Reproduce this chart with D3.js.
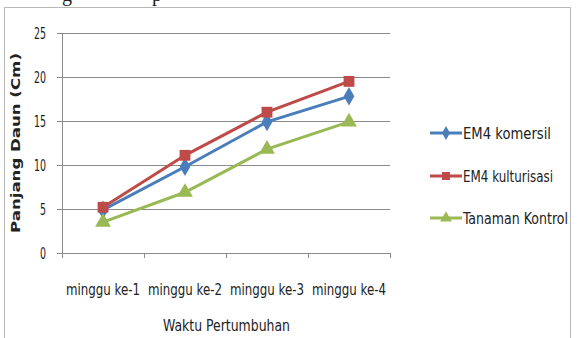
<!DOCTYPE html>
<html>
<head>
<meta charset="utf-8">
<script src="https://cdn.jsdelivr.net/npm/d3@7"></script>
<style>
	body { margin: 0; background: #fff; }
	text { font-family: "DejaVu Sans Condensed", "Liberation Sans Narrow", sans-serif; fill: #222; }
</style>
</head>
<body>
<div id="root"></div>
<script>
const weeks		= ['minggu ke-1', 'minggu ke-2', 'minggu ke-3', 'minggu ke-4'];
const komersil	= [4.9, 9.8, 14.9, 17.8];
const kultur	= [5.2, 11.1, 16.0, 19.5];
const kontrol	= [3.5, 6.9, 11.8, 14.9];
const yTicks	= [0, 5, 10, 15, 20, 25];

const series	= [
	{ name: 'EM4 komersil', values: komersil, color: '#4a7ebb', shape: 'diamond', len: 88 },
	{ name: 'EM4 kulturisasi', values: kultur, color: '#be4b48', shape: 'square', len: 90 },
	{ name: 'Tanaman Kontrol', values: kontrol, color: '#98b954', shape: 'triangle', len: 105 },
];

const W = 577, H = 338;
const plot = { left: 62, right: 390, top: 33, bottom: 253 };

const svg = d3.select('#root').append('svg')
	.attr('width', W)
	.attr('height', H);

// cut-off text from the page above
svg.append('text').attr('x', 62).attr('y', 1).style('font-family', 'Liberation Serif').style('font-size', '20px').text('g');
svg.append('text').attr('x', 152).attr('y', 1).style('font-family', 'Liberation Serif').style('font-size', '20px').text('p');

// chart frame
svg.append('rect')
	.attr('x', 4.5).attr('y', 7.5)
	.attr('width', 566).attr('height', 340)
	.attr('fill', 'none')
	.attr('stroke', '#b8b8b8');

const x = d3.scaleBand().domain(weeks).range([plot.left, plot.right]);
const y = d3.scaleLinear().domain([0, 25]).range([plot.bottom, plot.top]);

// grid
svg.append('g').selectAll('line')
	.data(yTicks).enter().append('line')
	.attr('x1', plot.left - 5).attr('x2', plot.right)
	.attr('y1', d => Math.round(y(d)) + 0.5).attr('y2', d => Math.round(y(d)) + 0.5)
	.attr('stroke', '#8a8a8a');

// y axis
svg.append('line')
	.attr('x1', plot.left + 0.5).attr('x2', plot.left + 0.5)
	.attr('y1', plot.top).attr('y2', plot.bottom + 0.5)
	.attr('stroke', '#8a8a8a');

svg.append('g').selectAll('text')
	.data(yTicks).enter().append('text')
	.attr('x', plot.left - 16)
	.attr('y', d => y(d) + 6)
	.attr('text-anchor', 'end')
	.attr('textLength', d => String(d).length * 6)
	.attr('lengthAdjust', 'spacingAndGlyphs')
	.style('font-size', '16px')
	.text(d => d);

// x axis ticks
svg.append('g').selectAll('line')
	.data(weeks.concat(['end'])).enter().append('line')
	.attr('x1', (d, i) => Math.round(plot.left + i * x.bandwidth()) + 0.5)
	.attr('x2', (d, i) => Math.round(plot.left + i * x.bandwidth()) + 0.5)
	.attr('y1', plot.bottom).attr('y2', plot.bottom + 5)
	.attr('stroke', '#8a8a8a');

svg.append('g').selectAll('text')
	.data(weeks).enter().append('text')
	.attr('x', d => x(d) + x.bandwidth() / 2 - 37)
	.attr('y', 295)
	.attr('textLength', 74)
	.attr('lengthAdjust', 'spacingAndGlyphs')
	.style('font-size', '16px')
	.text(d => d);

svg.append('text')
	.attr('x', 163).attr('y', 331)
	.attr('textLength', 127)
	.attr('lengthAdjust', 'spacingAndGlyphs')
	.style('font-size', '15px')
	.text('Waktu Pertumbuhan');

svg.append('text')
	.attr('transform', 'translate(20,233) rotate(-90)')
	.attr('textLength', 180)
	.attr('lengthAdjust', 'spacingAndGlyphs')
	.style('font-family', 'DejaVu Sans')
	.style('font-weight', 'bold')
	.style('font-size', '12px')
	.text('Panjang Daun (Cm)');

function marker(g, shape, color, s) {
	if (shape == 'diamond') {
		g.append('path').attr('d', d3.symbol().type(d3.symbolDiamond).size(s * 1.1)).attr('fill', color);
	} else if (shape == 'square') {
		g.append('path').attr('d', d3.symbol().type(d3.symbolSquare).size(s * 1.3)).attr('fill', color);
	} else {
		g.append('path').attr('d', d3.symbol().type(d3.symbolTriangle).size(s * 1.2)).attr('fill', color);
	}
}

const line = d3.line()
	.x((d, i) => x(weeks[i]) + x.bandwidth() / 2)
	.y(d => y(d));

series.forEach((s) => {
	svg.append('path')
		.attr('d', line(s.values))
		.attr('fill', 'none')
		.attr('stroke', s.color)
		.attr('stroke-width', 3);

	s.values.forEach((v, i) => {
		let g = svg.append('g').attr('transform', 'translate(' + (x(weeks[i]) + x.bandwidth() / 2) + ',' + y(v) + ')');
		marker(g, s.shape, s.color, 90);
	});
});

// legend
const legend = svg.append('g').selectAll('g')
	.data(series).enter().append('g')
	.attr('transform', (d, i) => 'translate(430,' + [133, 176, 218][i] + ')');

legend.append('line')
	.attr('x1', 0).attr('x2', 32)
	.attr('stroke', d => d.color)
	.attr('stroke-width', 3);

legend.each(function(d) {
	let g = d3.select(this).append('g').attr('transform', 'translate(16,0)');
	marker(g, d.shape, d.color, 50);
});

legend.append('text')
	.attr('x', 33).attr('y', 6)
	.attr('textLength', d => d.len)
	.attr('lengthAdjust', 'spacingAndGlyphs')
	.style('font-size', '15px')
	.text(d => d.name);
</script>
</body>
</html>
